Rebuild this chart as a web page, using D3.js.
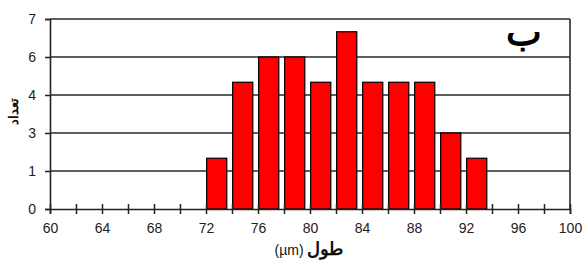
<!DOCTYPE html>
<html><head><meta charset="utf-8">
<script src="https://cdn.jsdelivr.net/npm/d3@7/dist/d3.min.js"></script>
<style>body{margin:0;background:#fff}svg{display:block}</style>
</head><body>
<script>
const binStarts = [72, 74, 76, 78, 80, 82, 84, 86, 88, 90, 92];
const counts = [1.87, 4.67, 5.6, 5.6, 4.67, 6.53, 4.67, 4.67, 4.67, 2.8, 1.87];
const yTicks = [0, 1.4, 2.8, 4.2, 5.6, 7];
const yTickLabels = ["0", "1", "3", "4", "6", "7"];
const xTicks = d3.range(60, 101, 2);
const xTickLabels = [60, 64, 68, 72, 76, 80, 84, 88, 92, 96, 100];
const yTitle = "تعداد";
const xTitleAr = "طول";
const xTitleUnit = "(µm)";
const panelLabel = "ب";

const W = 584, H = 264;
const m = {l: 50, r: 14, t: 19, b: 55};
const svg = d3.select("body").append("svg").attr("width", W).attr("height", H);
const x = d3.scaleLinear().domain([60, 100]).range([m.l, W - m.r]);
const y = d3.scaleLinear().domain([0, 7]).range([H - m.b, m.t]);
const font = "Arial, 'Liberation Sans', sans-serif";

// gridlines
svg.append("g").selectAll("line").data(yTicks.slice(1)).join("line")
  .attr("x1", m.l).attr("x2", W - m.r)
  .attr("y1", d => y(d)).attr("y2", d => y(d))
  .attr("stroke", "#2a2a2a").attr("stroke-width", 1.6);
// right border
svg.append("line").attr("x1", W - m.r).attr("x2", W - m.r)
  .attr("y1", m.t).attr("y2", y(0)).attr("stroke", "#2a2a2a").attr("stroke-width", 1.6);

// bars
svg.append("g").selectAll("rect").data(binStarts).join("rect")
  .attr("x", d => x(d + 0.05))
  .attr("width", d => x(d + 1.6) - x(d + 0.05))
  .attr("y", (d, i) => y(counts[i]))
  .attr("height", (d, i) => y(0) - y(counts[i]))
  .attr("fill", "#ff0000").attr("stroke", "#000").attr("stroke-width", 1.2);

// y axis
const yAxis = d3.axisLeft(y).tickValues(yTicks).tickFormat((d, i) => yTickLabels[i])
  .tickSize(5).tickPadding(9);
const gy = svg.append("g").attr("transform", `translate(${m.l},0)`).call(yAxis);
gy.select(".domain").attr("stroke", "#222").attr("stroke-width", 1.6);
gy.selectAll(".tick line").attr("stroke", "#222").attr("stroke-width", 1.5);
gy.selectAll("text").attr("font-family", font).attr("font-size", 14).attr("fill", "#222");

// x axis
const xAxis = d3.axisBottom(x).tickValues(xTicks)
  .tickFormat(d => xTickLabels.includes(d) ? d : "").tickSize(5).tickPadding(9);
const gx = svg.append("g").attr("transform", `translate(0,${y(0)})`).call(xAxis);
gx.select(".domain").attr("stroke", "#222").attr("stroke-width", 1.6);
gx.selectAll(".tick line").attr("y1", -5).attr("stroke", "#222").attr("stroke-width", 1.5);
gx.selectAll("text").attr("font-family", font).attr("font-size", 14).attr("fill", "#222");

// y title
svg.append("text").attr("transform", `translate(18,111) rotate(-90)`)
  .attr("text-anchor", "middle").attr("font-family", font).attr("font-weight", "bold")
  .attr("font-size", 13).attr("fill", "#111").text(yTitle);

// x title
const xt = svg.append("text").attr("x", 309).attr("y", 255).attr("text-anchor", "middle")
  .attr("font-family", font).attr("fill", "#111");
xt.append("tspan").attr("font-size", 14).text(xTitleUnit + " ");
xt.append("tspan").attr("font-size", 18).attr("font-weight", "bold").text(xTitleAr);

// panel label
svg.append("text").attr("x", 524).attr("y", 45).attr("text-anchor", "middle")
  .attr("font-family", font).attr("font-weight", "bold").attr("font-size", 38)
  .attr("fill", "#000").text(panelLabel);
</script>
</body></html>
